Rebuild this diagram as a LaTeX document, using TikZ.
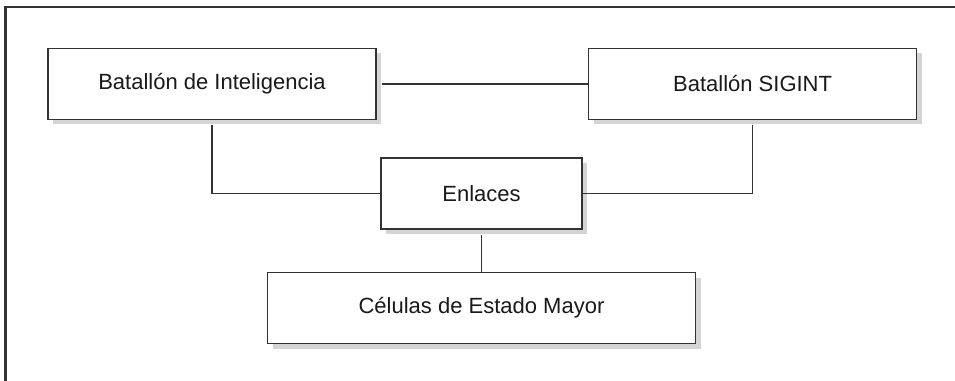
\documentclass[tikz,border=0pt]{standalone}
\usepackage{fontspec}
\setmainfont{Liberation Sans}
\usetikzlibrary{positioning,shadows}
\definecolor{ink}{HTML}{333333}
\definecolor{shade}{HTML}{D4D4D4}
\begin{document}
\begin{tikzpicture}[x=0.75pt, y=-0.75pt,
  unit/.style = {draw=ink, line width=1.2pt, fill=white, inner sep=0pt,
    minimum height=53.25pt, text=black!90, font=\fontsize{16.5}{19}\selectfont,
    drop shadow={shadow xshift=3.75pt, shadow yshift=-3.75pt, fill=shade, opacity=1}},
  link/.style = {draw=ink, line width=1.1pt, shorten <=3.75pt}]
\useasboundingbox (0,0) rectangle (955,381);
% frame
\draw[ink, line width=2pt] (5.3,381) -- (5.3,7) -- (955,7);
% units
\node[unit, minimum width=246pt] (inte) at (212,84) {Batallón de Inteligencia};
\node[unit, minimum width=246pt] (sigint) [right=158.25pt of inte] {Batallón SIGINT};
\node[unit, minimum width=150.75pt] (enl) at (481.5,193.5) {Enlaces};
\node[unit, minimum width=321pt] (cel) [below=31.5pt of enl] {Células de Estado Mayor};
% links
\draw[link] (inte) -- (sigint);
\draw[link] (inte.south) |- (enl.west);
\draw[link] (sigint.south) |- (enl.east);
\draw[link] (enl.south) -- (cel.north);
\end{tikzpicture}
\end{document}
